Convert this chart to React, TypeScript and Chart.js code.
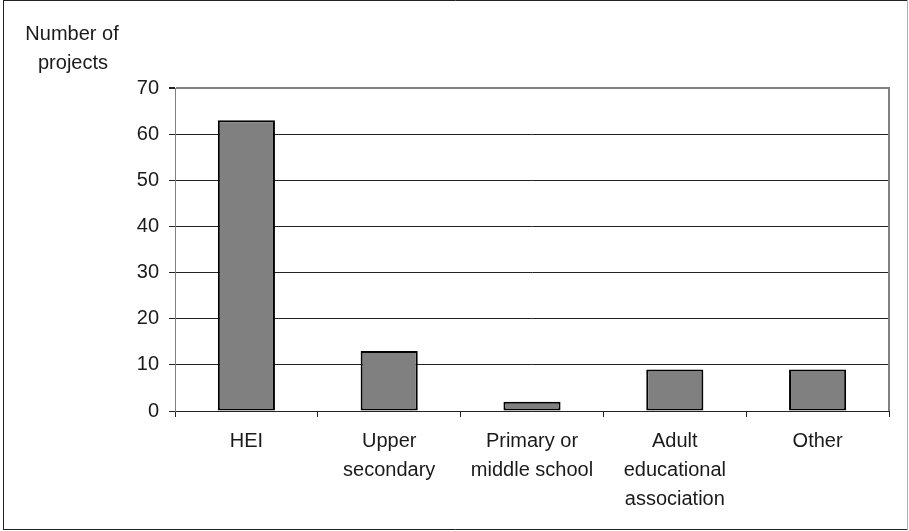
import React, { useEffect, useRef } from "react";
import { Chart, registerables } from "chart.js";

Chart.register(...registerables);

const categories: string[][] = [
  ["HEI"],
  ["Upper", "secondary"],
  ["Primary or", "middle school"],
  ["Adult", "educational", "association"],
  ["Other"],
];
const projectCounts: number[] = [63, 13, 2, 9, 9];
const yTitleLines: string[] = ["Number of", "projects"];
const yMin = 0;
const yMax = 70;
const yStep = 10;

const FONT = "'Liberation Sans', Arial, sans-serif";

const framePlugin = {
  id: "frame",
  beforeDraw(chart: any) {
    const { ctx, width, height } = chart;
    ctx.save();
    ctx.fillStyle = "#ffffff";
    ctx.fillRect(0, 0, width, height);
    ctx.restore();
  },
  afterDraw(chart: any) {
    const { ctx, chartArea } = chart;
    ctx.save();
    // plot area right edge
    ctx.strokeStyle = "#808080";
    ctx.lineWidth = 2;
    ctx.beginPath();
    ctx.moveTo(chartArea.right, chartArea.top - 1);
    ctx.lineTo(chartArea.right, chartArea.bottom);
    ctx.stroke();
    // outer frame
    ctx.lineWidth = 1;
    ctx.strokeStyle = "#222222";
    ctx.beginPath();
    ctx.moveTo(3, 0.5);
    ctx.lineTo(908, 0.5);
    ctx.moveTo(3.5, 0);
    ctx.lineTo(3.5, 530);
    ctx.moveTo(3, 529.5);
    ctx.lineTo(908, 529.5);
    ctx.stroke();
    ctx.strokeStyle = "#b0b0b0";
    ctx.beginPath();
    ctx.moveTo(907.5, 0);
    ctx.lineTo(907.5, 530);
    ctx.stroke();
    // axis title
    ctx.fillStyle = "#1a1a1a";
    ctx.font = `20px ${FONT}`;
    ctx.textAlign = "center";
    ctx.textBaseline = "alphabetic";
    ctx.fillText(yTitleLines[0], 72, 40);
    ctx.fillText(yTitleLines[1], 73, 69);
    ctx.restore();
  },
};

export default function App() {
  const canvasRef = useRef<HTMLCanvasElement | null>(null);

  useEffect(() => {
    if (!canvasRef.current) return;
    const chart = new Chart(canvasRef.current, {
      type: "bar",
      data: {
        labels: categories,
        datasets: [
          {
            data: projectCounts,
            backgroundColor: "#808080",
            borderColor: "#000000",
            borderWidth: 2,
            borderSkipped: false,
            categoryPercentage: 1,
            barPercentage: 0.4,
          },
        ],
      },
      options: {
        animation: false,
        responsive: false,
        layout: { padding: { left: 0, top: 88, right: 20, bottom: 0 } },
        plugins: {
          legend: { display: false },
          tooltip: { enabled: false },
        },
        scales: {
          x: {
            afterFit: (scale: any) => {
              scale.height = 120;
            },
            grid: {
              offset: true,
              drawOnChartArea: false,
              drawTicks: true,
              tickLength: 6,
              tickColor: "#222222",
            },
            border: { display: true, color: "#222222", width: 1 },
            ticks: {
              color: "#1a1a1a",
              font: { family: FONT, size: 20, lineHeight: 1.45 },
              padding: 10,
              maxRotation: 0,
              autoSkip: false,
            },
          },
          y: {
            min: yMin,
            max: yMax,
            afterFit: (scale: any) => {
              scale.width = 175;
            },
            grid: {
              color: (ctx: any) => (ctx.tick && ctx.tick.value === yMax ? "#808080" : "#222222"),
              lineWidth: (ctx: any) => (ctx.tick && ctx.tick.value === yMax ? 2 : 1),
              tickColor: "#222222",
              tickLength: 6,
            },
            border: { display: true, color: "#808080", width: 1 },
            ticks: {
              stepSize: yStep,
              color: "#1a1a1a",
              font: { family: FONT, size: 20 },
              padding: 10,
            },
          },
        },
      },
      plugins: [framePlugin],
    });
    return () => chart.destroy();
  }, []);

  return (
    <div style={{ position: "absolute", left: 0, top: 0, width: 909, height: 531 }}>
      <canvas ref={canvasRef} width={909} height={531} style={{ display: "block" }} />
    </div>
  );
}
